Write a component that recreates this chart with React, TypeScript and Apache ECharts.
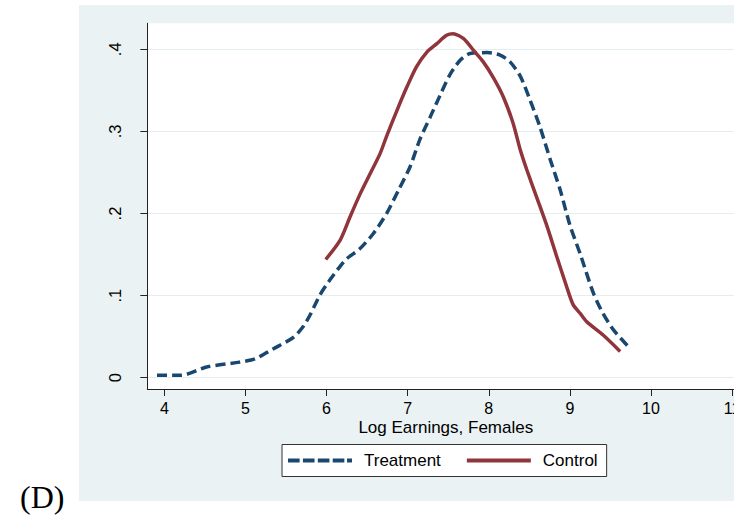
import React, { useEffect, useRef } from "react";
import * as echarts from "echarts";

// Kernel density estimates of log earnings (females)
const treatmentX = [3.91, 4.21, 4.52, 4.93, 5.12, 5.34, 5.59, 5.71, 5.8, 5.92, 6.04, 6.17, 6.25, 6.41, 6.58, 6.74, 6.89, 7.03, 7.15, 7.28, 7.4, 7.52, 7.65, 7.77, 7.98, 8.14, 8.26, 8.39, 8.51, 8.63, 8.76, 8.88, 9.0, 9.13, 9.29, 9.41, 9.54, 9.72];
const treatmentY = [0.003, 0.003, 0.013, 0.019, 0.023, 0.035, 0.049, 0.062, 0.077, 0.101, 0.119, 0.136, 0.145, 0.157, 0.176, 0.2, 0.229, 0.257, 0.29, 0.318, 0.344, 0.369, 0.387, 0.395, 0.396, 0.393, 0.385, 0.367, 0.338, 0.306, 0.265, 0.229, 0.186, 0.15, 0.103, 0.078, 0.058, 0.038];

const controlX = [5.99, 6.17, 6.29, 6.41, 6.54, 6.66, 6.74, 6.87, 6.99, 7.11, 7.24, 7.36, 7.48, 7.56, 7.69, 7.81, 7.93, 8.06, 8.18, 8.3, 8.39, 8.47, 8.59, 8.72, 8.84, 8.96, 9.04, 9.13, 9.21, 9.41, 9.62];
const controlY = [0.144, 0.168, 0.196, 0.223, 0.249, 0.273, 0.294, 0.326, 0.354, 0.379, 0.397, 0.407, 0.417, 0.419, 0.413, 0.399, 0.385, 0.365, 0.342, 0.31, 0.277, 0.253, 0.22, 0.184, 0.147, 0.111, 0.089, 0.078, 0.068, 0.052, 0.032];

const xTickValues = [4, 5, 6, 7, 8, 9, 10, 11];
const yTickValues = [0, 0.1, 0.2, 0.3, 0.4];
const yTickLabels = ["0", ".1", ".2", ".3", ".4"];

const seriesNames = ["Treatment", "Control"];
const xAxisTitle = "Log Earnings, Females";
const panelLabel = "(D)";

const FONT = "'Liberation Sans', Arial, sans-serif";
const NAVY = "#1A476F";
const MAROON = "#90353B";
const PANEL = "#EAF2F3";

// legend glyphs: dashed and solid line swatches
const DASH_ICON =
  "path://M0 0H11.7V4H0Z M15 0H26.7V4H15Z M30 0H41.7V4H30Z M45 0H56.7V4H45Z M59.4 0H64.4V4H59.4Z";
const SOLID_ICON = "path://M0 0H64.4V4H0Z";

export default function App() {
  const ref = useRef<HTMLDivElement>(null);

  useEffect(() => {
    if (!ref.current) return;
    const chart = echarts.init(ref.current, null, { renderer: "svg" });

    const tData = treatmentX.map((x, i) => [x, treatmentY[i]]);
    const cData = controlX.map((x, i) => [x, controlY[i]]);

    chart.setOption({
      animation: false,
      graphic: {
        elements: [
          {
            type: "rect",
            z: -10,
            shape: { x: 79, y: 5, width: 660, height: 496 },
            style: { fill: PANEL },
            silent: true,
          },
          {
            type: "text",
            z: 10,
            x: 20,
            y: 497,
            style: {
              text: panelLabel,
              font: "32px 'Liberation Serif', 'Times New Roman', serif",
              fill: "#000",
              verticalAlign: "middle",
              align: "left",
            },
          },
        ],
      },
      grid: {
        left: 147.3,
        top: 23.3,
        width: 601,
        bottom: 127,
        containLabel: false,
        outerBoundsMode: "none",
        show: true,
        backgroundColor: "#fff",
        borderWidth: 0,
      },
      xAxis: {
        type: "value",
        min: 3.79,
        max: 11.2,
        name: xAxisTitle,
        nameLocation: "middle",
        nameGap: 31,
        nameMoveOverlap: false,
        nameTextStyle: {
          fontFamily: FONT,
          fontSize: 17,
          lineHeight: 15,
          color: "#000",
          padding: [0, 4, 0, 0],
        },
        axisLine: { show: true, onZero: false, lineStyle: { color: "#222", width: 1 } },
        axisTick: {
          show: true,
          length: 7,
          customValues: xTickValues,
          lineStyle: { color: "#222", width: 1 },
        },
        axisLabel: {
          customValues: xTickValues,
          fontFamily: FONT,
          fontSize: 16,
          lineHeight: 14,
          color: "#000",
          margin: 12.5,
          hideOverlap: false,
          formatter: (v: number) => String(v),
        },
        splitLine: { show: false },
      },
      yAxis: {
        type: "value",
        min: -0.01376,
        max: 0.4317,
        axisLine: { show: true, onZero: false, lineStyle: { color: "#222", width: 1 } },
        axisTick: {
          show: true,
          length: 7,
          customValues: yTickValues,
          lineStyle: { color: "#222", width: 1 },
        },
        axisLabel: {
          customValues: yTickValues,
          rotate: 90,
          fontFamily: FONT,
          fontSize: 16.5,
          color: "#000",
          margin: 24,
          formatter: (v: number) => {
            const i = yTickValues.findIndex((t) => Math.abs(t - v) < 1e-6);
            return i >= 0 ? yTickLabels[i] : "";
          },
        },
        splitLine: { show: true, lineStyle: { color: "#E4EDEF", width: 1 } },
      },
      legend: {
        show: true,
        left: 282,
        top: 444.5,
        orient: "horizontal",
        backgroundColor: "#fff",
        borderColor: "#333",
        borderWidth: 1,
        borderRadius: 0,
        padding: [7.5, 9, 7.5, 6],
        itemWidth: 64,
        itemHeight: 4,
        itemGap: 26,
        selectedMode: false,
        textStyle: {
          fontFamily: FONT,
          fontSize: 17,
          color: "#000",
          padding: [0, 0, 0, 7],
        },
        data: [
          { name: seriesNames[0], icon: DASH_ICON, itemStyle: { color: NAVY } },
          { name: seriesNames[1], icon: SOLID_ICON, itemStyle: { color: MAROON } },
        ],
      },
      series: [
        {
          name: seriesNames[0],
          type: "line",
          data: tData,
          symbol: "none",
          smooth: 0.25,
          z: 3,
          lineStyle: { color: NAVY, width: 3.5, type: [10, 5], cap: "butt" },
          itemStyle: { color: NAVY },
        },
        {
          name: seriesNames[1],
          type: "line",
          data: cData,
          symbol: "none",
          smooth: 0.25,
          z: 4,
          lineStyle: { color: MAROON, width: 3.5, type: "solid" },
          itemStyle: { color: MAROON },
        },
      ],
    });

    return () => chart.dispose();
  }, []);

  return (
    <div
      ref={ref}
      style={{ position: "fixed", left: 0, top: 0, width: 734, height: 516, background: "#fff" }}
    />
  );
}
